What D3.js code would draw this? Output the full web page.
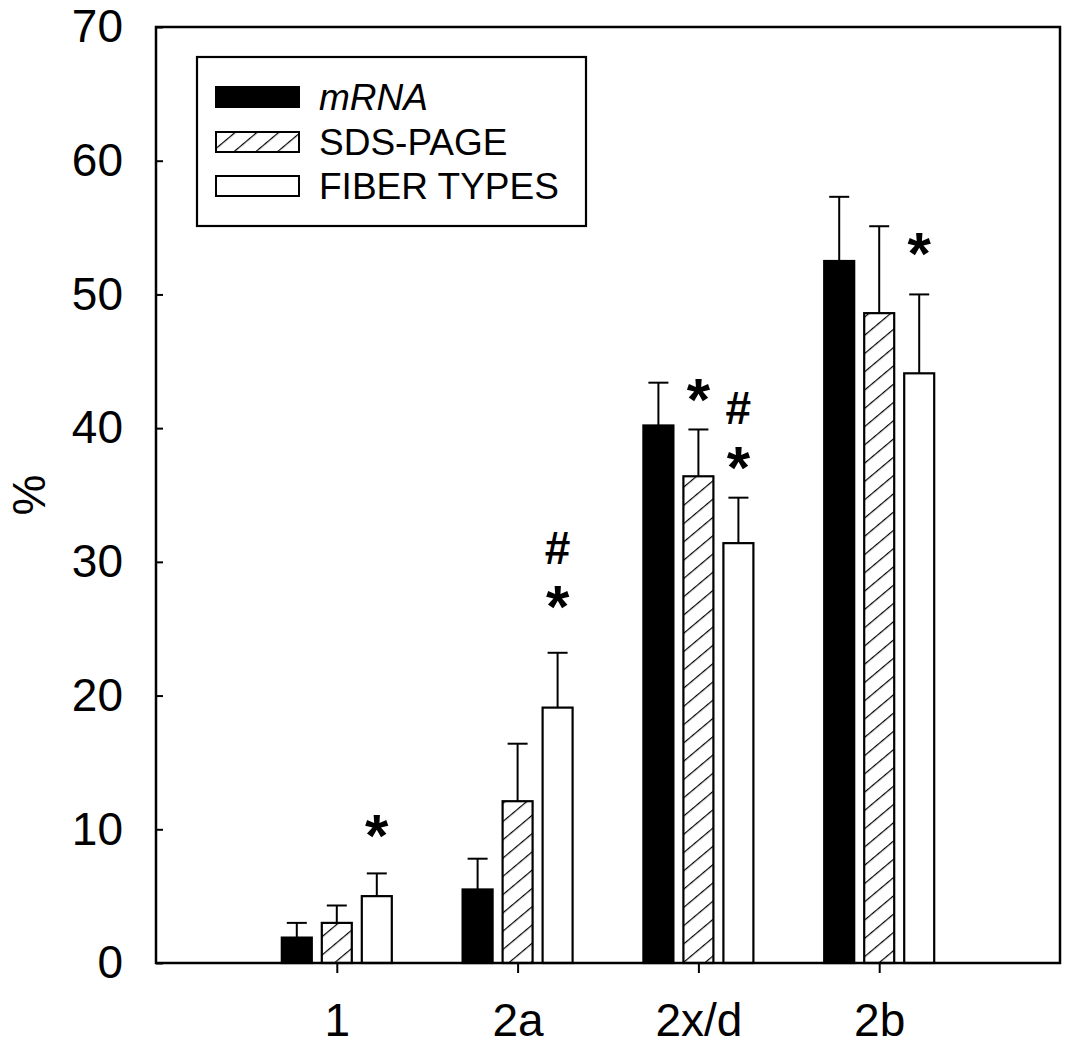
<!DOCTYPE html>
<html>
<head>
<meta charset="utf-8">
<script src="https://cdn.jsdelivr.net/npm/d3@7/dist/d3.min.js"></script>
<style>
  html, body { margin: 0; padding: 0; background: #fff; }
  svg { display: block; font-family: "Liberation Sans", Arial, sans-serif; }
</style>
</head>
<body>
<svg id="chart" width="1067" height="1046"></svg>
<script>
// ---- data ----
const categories = ["1", "2a", "2x/d", "2b"];
const seriesNames = ["mRNA", "SDS-PAGE", "FIBER TYPES"];
const mrnaValues   = [1.9, 5.5, 40.2, 52.5];
const mrnaErrors   = [1.1, 2.3, 3.2, 4.8];
const sdsValues    = [3.0, 12.1, 36.4, 48.6];
const sdsErrors    = [1.3, 4.3, 3.5, 6.5];
const fiberValues  = [5.0, 19.1, 31.4, 44.1];
const fiberErrors  = [1.7, 4.1, 3.4, 5.9];
const yTicks = [0, 10, 20, 30, 40, 50, 60, 70];
// significance marks: category, series index, symbol, level (data units)
const annotations = [
  { cat: "1",    s: 2, sym: "*", level: 10.5 },
  { cat: "2a",   s: 2, sym: "#", level: 31.1 },
  { cat: "2a",   s: 2, sym: "*", level: 27.6 },
  { cat: "2x/d", s: 1, sym: "*", level: 43.1 },
  { cat: "2x/d", s: 2, sym: "#", level: 41.6 },
  { cat: "2x/d", s: 2, sym: "*", level: 38.0 },
  { cat: "2b",   s: 2, sym: "*", level: 54.0 }
];

(function () {
const series = [
  { name: seriesNames[0], values: mrnaValues,  errors: mrnaErrors,  fill: "#000" },
  { name: seriesNames[1], values: sdsValues,   errors: sdsErrors,   fill: "url(#hatch)" },
  { name: seriesNames[2], values: fiberValues, errors: fiberErrors, fill: "#fff" }
];

// ---- layout ----
const mLeft = 156, mRight = 1060, mTop = 27, mBottom = 963;
const svg = d3.select("#chart");

const defs = svg.append("defs");
const pat = defs.append("pattern")
  .attr("id", "hatch")
  .attr("patternUnits", "userSpaceOnUse")
  .attr("width", 14).attr("height", 14)
  .attr("patternTransform", "rotate(50)");
pat.append("rect").attr("width", 14).attr("height", 14).attr("fill", "#fff");
pat.append("line").attr("x1", 0).attr("y1", 0).attr("x2", 0).attr("y2", 14)
  .attr("stroke", "#000").attr("stroke-width", 2.4);

const x = d3.scalePoint().domain(categories).range([mLeft, mRight]).padding(1);
const y = d3.scaleLinear().domain([0, 70]).range([mBottom, mTop]);

const barW = 30, offset = 40;
const g = svg.append("g");

series.forEach((s, si) => {
  const dx = (si - 1) * offset;
  const grp = g.append("g");
  grp.selectAll("rect").data(categories).join("rect")
    .attr("x", (c) => x(c) + dx - barW / 2)
    .attr("y", (c, i) => y(s.values[i]))
    .attr("width", barW)
    .attr("height", (c, i) => y(0) - y(s.values[i]))
    .attr("fill", s.fill)
    .attr("stroke", "#000").attr("stroke-width", 2.2);
  grp.selectAll("line.err").data(categories).join("line")
    .attr("class", "err")
    .attr("x1", (c) => x(c) + dx).attr("x2", (c) => x(c) + dx)
    .attr("y1", (c, i) => y(s.values[i]))
    .attr("y2", (c, i) => y(s.values[i] + s.errors[i]))
    .attr("stroke", "#000").attr("stroke-width", 2);
  grp.selectAll("line.cap").data(categories).join("line")
    .attr("class", "cap")
    .attr("x1", (c) => x(c) + dx - 10).attr("x2", (c) => x(c) + dx + 10)
    .attr("y1", (c, i) => y(s.values[i] + s.errors[i]))
    .attr("y2", (c, i) => y(s.values[i] + s.errors[i]))
    .attr("stroke", "#000").attr("stroke-width", 2);
});

// frame
svg.append("rect").attr("x", mLeft).attr("y", mTop)
  .attr("width", mRight - mLeft).attr("height", mBottom - mTop)
  .attr("fill", "none").attr("stroke", "#000").attr("stroke-width", 2.5);

// y axis (ticks inward)
const yAxis = svg.append("g").attr("transform", `translate(${mLeft},0)`)
  .call(d3.axisLeft(y).tickValues(yTicks).tickSize(-7).tickPadding(33).tickFormat(d3.format("d")));
yAxis.select(".domain").remove();
yAxis.selectAll("line").attr("stroke-width", 2);
yAxis.selectAll("text").attr("font-size", 46).attr("fill", "#000")
  .attr("font-family", "'Liberation Sans', Arial, sans-serif");

// x axis
const xAxis = svg.append("g").attr("transform", `translate(0,${mBottom})`)
  .call(d3.axisBottom(x).tickSize(10).tickPadding(30));
xAxis.select(".domain").remove();
xAxis.selectAll("line").attr("stroke-width", 2);
xAxis.selectAll("text").attr("font-size", 46).attr("fill", "#000")
  .attr("font-family", "'Liberation Sans', Arial, sans-serif");

// y label
svg.append("text")
  .attr("transform", "translate(45,495) rotate(-90)")
  .attr("text-anchor", "middle")
  .attr("font-size", 46)
  .text("%");

// annotations
svg.append("g").selectAll("text").data(annotations).join("text")
  .attr("x", (d) => x(d.cat) + (d.s - 1) * offset)
  .attr("y", (d) => y(d.level) + (d.sym === "*" ? 33 : 17))
  .attr("text-anchor", "middle")
  .attr("font-size", (d) => d.sym === "*" ? 60 : 46)
  .attr("font-weight", "bold")
  .text((d) => d.sym);

// legend
const lg = svg.append("g");
lg.append("rect").attr("x", 197).attr("y", 57).attr("width", 389).attr("height", 169)
  .attr("fill", "#fff").attr("stroke", "#000").attr("stroke-width", 2.2);
const rowY = [97, 142, 186];
series.forEach((s, i) => {
  lg.append("rect").attr("x", 216).attr("y", rowY[i] - 10).attr("width", 83).attr("height", 20)
    .attr("fill", s.fill).attr("stroke", "#000").attr("stroke-width", 2);
  lg.append("text").attr("x", 319).attr("y", rowY[i] + 13)
    .attr("font-size", 37)
    .attr("font-style", i === 0 ? "italic" : "normal")
    .text(s.name);
});
})();
</script>
</body>
</html>
